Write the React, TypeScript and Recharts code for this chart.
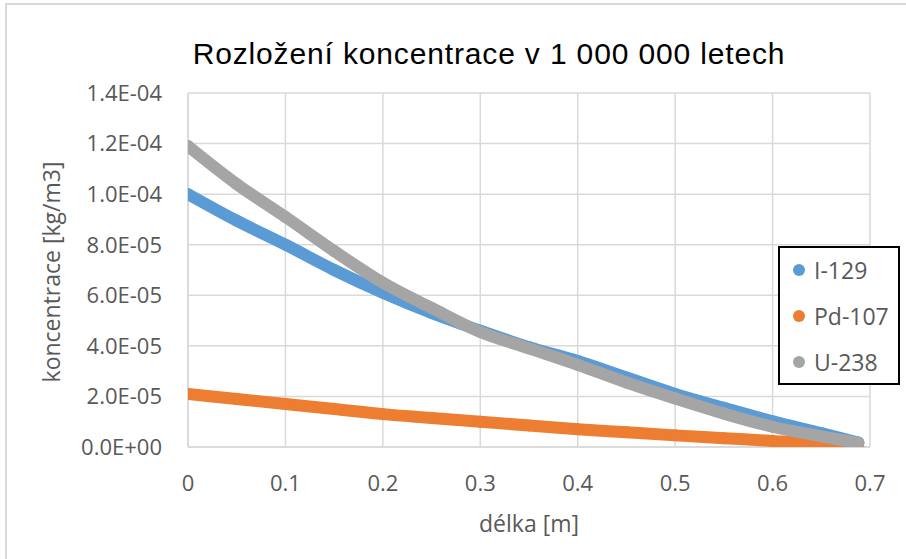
import React from "react";
import {
  ScatterChart,
  Scatter,
  XAxis,
  YAxis,
  CartesianGrid,
} from "recharts";

const titleText = "Rozložení koncentrace v 1 000 000 letech";
const xTitle = "délka [m]";
const yTitle = "koncentrace [kg/m3]";

const xTicks = [0, 0.1, 0.2, 0.3, 0.4, 0.5, 0.6, 0.7];
const xTickLabels = ["0", "0.1", "0.2", "0.3", "0.4", "0.5", "0.6", "0.7"];
const yTicks = [0, 2e-5, 4e-5, 6e-5, 8e-5, 1e-4, 1.2e-4, 1.4e-4];
const yTickLabels = [
  "0.0E+00",
  "2.0E-05",
  "4.0E-05",
  "6.0E-05",
  "8.0E-05",
  "1.0E-04",
  "1.2E-04",
  "1.4E-04",
];

const xPos = [0, 0.05, 0.1, 0.15, 0.2, 0.25, 0.3, 0.35, 0.4, 0.45, 0.5, 0.55, 0.6, 0.65, 0.688];
const i129 = [1.0e-4, 8.95e-5, 8.0e-5, 7.0e-5, 6.1e-5, 5.3e-5, 4.6e-5, 3.95e-5, 3.4e-5, 2.75e-5, 2.1e-5, 1.55e-5, 1.02e-5, 5.5e-6, 1.8e-6];
const pd107 = [2.1e-5, 1.9e-5, 1.7e-5, 1.5e-5, 1.3e-5, 1.15e-5, 1.0e-5, 8.5e-6, 7.0e-6, 5.8e-6, 4.6e-6, 3.5e-6, 2.4e-6, 1.2e-6, 0];
const u238 = [1.19e-4, 1.04e-4, 9.1e-5, 7.75e-5, 6.5e-5, 5.5e-5, 4.55e-5, 3.9e-5, 3.25e-5, 2.55e-5, 1.92e-5, 1.32e-5, 8.0e-6, 4.2e-6, 1.6e-6];

const seriesNames = ["I-129", "Pd-107", "U-238"];
const seriesColors = ["#5B9BD5", "#ED7D31", "#A5A5A5"];
const seriesValues = [i129, pd107, u238];

const toPoints = (vals: number[]) => xPos.map((x, i) => ({ x, y: vals[i] }));

const FONT = "'Open Sans', 'Noto Sans', sans-serif";

const Dot = (props: any) => {
  const { cx, cy, fill } = props;
  if (cx == null || cy == null) return null;
  return <circle cx={cx} cy={cy} r={6} fill={fill} />;
};

const LegendBox = () => (
  <div
    style={{
      position: "absolute",
      left: 778,
      top: 246,
      width: 118,
      height: 135,
      border: "2px solid #000",
      background: "#fff",
      fontFamily: FONT,
      fontSize: 23,
      color: "#595959",
    }}
  >
    {seriesNames.map((n, i) => (
      <div
        key={n}
        style={{
          position: "absolute",
          left: 0,
          top: 22 + i * 46 - 16,
          height: 32,
          display: "flex",
          alignItems: "center",
        }}
      >
        <svg width={40} height={32} style={{ display: "block" }}>
          <circle cx={19} cy={16} r={6} fill={seriesColors[i]} />
        </svg>
        <span style={{ marginLeft: -6, lineHeight: "32px" }}>{n}</span>
      </div>
    ))}
  </div>
);

export default function App() {
  return (
    <div
      style={{
        position: "absolute",
        left: 0,
        top: 0,
        width: 906,
        height: 559,
        background: "#fff",
        overflow: "hidden",
      }}
    >
      <div
        style={{
          position: "absolute",
          left: 5,
          top: 3,
          width: 960,
          height: 600,
          borderLeft: "2px solid #D9D9D9",
          borderTop: "2px solid #D9D9D9",
        }}
      />
      <div
        style={{
          position: "absolute",
          left: 0,
          top: 37,
          width: 978,
          textAlign: "center",
          fontFamily: "'Liberation Sans', Arial, sans-serif",
          fontSize: 30,
          letterSpacing: 0.85,
          color: "#000",
          lineHeight: "34px",
        }}
      >
        {titleText}
      </div>
      <div
        style={{
          position: "absolute",
          left: 51 - 150,
          top: 272 - 15,
          width: 300,
          height: 30,
          lineHeight: "30px",
          textAlign: "center",
          transform: "rotate(-90deg)",
          fontFamily: FONT,
          fontSize: 23,
          color: "#595959",
        }}
      >
        {yTitle}
      </div>
      <div
        style={{
          position: "absolute",
          left: 529 - 150,
          top: 523 - 15,
          width: 300,
          height: 30,
          lineHeight: "30px",
          textAlign: "center",
          fontFamily: FONT,
          fontSize: 23,
          color: "#595959",
        }}
      >
        {xTitle}
      </div>
      <div style={{ position: "absolute", left: 0, top: 0 }}>
        <ScatterChart
          width={906}
          height={559}
          margin={{ top: 93, right: 36, bottom: 72, left: 88 }}
        >
          <CartesianGrid stroke="#D9D9D9" strokeWidth={1.5} />
          <XAxis
            type="number"
            dataKey="x"
            domain={[0, 0.7]}
            ticks={xTicks}
            tickFormatter={(v: number) => xTickLabels[xTicks.findIndex((t) => Math.abs(t - v) < 1e-9)] ?? String(v)}
            tickLine={false}
            axisLine={{ stroke: "#D9D9D9", strokeWidth: 1.5 }}
            tickSize={0}
            tickMargin={28}
            height={40}
            tick={{ fill: "#595959", fontSize: 22, fontFamily: FONT }}
            interval={0}
            allowDataOverflow
          />
          <YAxis
            type="number"
            dataKey="y"
            domain={[0, 1.4e-4]}
            ticks={yTicks}
            tickFormatter={(v: number) => yTickLabels[yTicks.findIndex((t) => Math.abs(t - v) < 1e-12)] ?? String(v)}
            tickLine={false}
            axisLine={{ stroke: "#D9D9D9", strokeWidth: 1.5 }}
            tickSize={0}
            tickMargin={26}
            width={100}
            tick={{ fill: "#595959", fontSize: 22, fontFamily: FONT }}
            interval={0}
            allowDataOverflow
          />
          {seriesNames.map((n, i) => (
            <Scatter
              key={n}
              name={n}
              data={toPoints(seriesValues[i])}
              fill={seriesColors[i]}
              line={{ stroke: seriesColors[i], strokeWidth: 12, strokeLinecap: "round", strokeLinejoin: "round" }}
              lineType="joint"
              lineJointType="monotoneX"
              shape={<Dot />}
              isAnimationActive={false}
            />
          ))}
        </ScatterChart>
      </div>
      <LegendBox />
    </div>
  );
}
